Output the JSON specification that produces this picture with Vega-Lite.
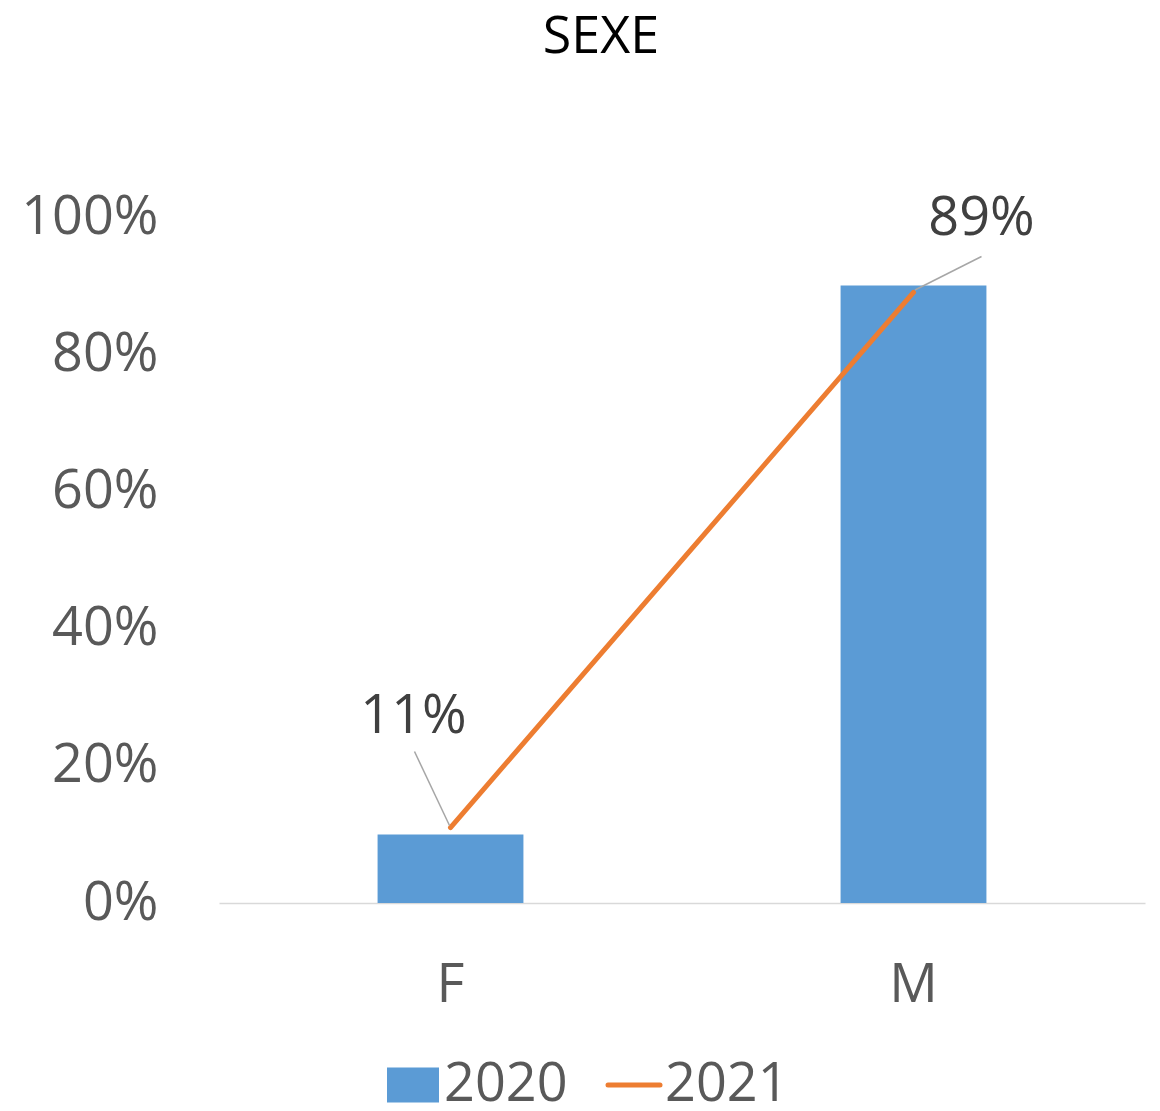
{
  "$schema": "https://vega.github.io/schema/vega-lite/v6.json",
  "width": 926,
  "height": 686,
  "autosize": {"type": "none"},
  "padding": {"left": 219, "top": 217, "right": 15, "bottom": 208},
  "background": "white",
  "title": {"text": "SEXE", "font": "Open Sans", "fontSize": 52, "fontWeight": "normal", "color": "#000000", "anchor": "middle", "dx": -81, "offset": 126},
  "config": {"view": {"stroke": null}, "font": "Open Sans"},
  "data": {"values": [
    {"cat": "F", "y2020": 0.10, "y2021": 0.11},
    {"cat": "M", "y2020": 0.90, "y2021": 0.89}
  ]},
  "encoding": {
    "x": {"field": "cat", "type": "nominal", "scale": {"paddingInner": 0.685, "paddingOuter": 0.3425},
      "axis": {"title": null, "labelAngle": 0, "labelFontSize": 54, "labelColor": "#595959", "labelFont": "Open Sans", "ticks": false, "domainColor": "#D9D9D9", "domainWidth": 1.5, "labelPadding": 55}}
  },
  "layer": [
    {
      "mark": {"type": "bar", "color": "#5B9BD5"},
      "encoding": {
        "y": {"field": "y2020", "type": "quantitative", "scale": {"domain": [0, 1], "nice": false},
          "axis": {"title": null, "format": ".0%", "values": [0, 0.2, 0.4, 0.6, 0.8, 1], "domain": false, "grid": false, "ticks": false, "labelFontSize": 54, "labelColor": "#595959", "labelFont": "Open Sans", "labelPadding": 61}},
        "color": {"datum": "2020", "type": "nominal", "scale": {"domain": ["2020", "2021"], "range": ["#5B9BD5", "#ED7D31"]},
          "legend": {"orient": "none", "legendX": 167, "legendY": 841, "direction": "horizontal", "title": null, "labelFontSize": 54, "labelColor": "#595959", "labelFont": "Open Sans", "symbolSize": 2704, "labelOffset": 4, "columnPadding": 30,
            "encode": {"symbols": {"update": {
              "shape": {"signal": "datum.value === '2020' ? 'M-1,-0.67H1V0.67H-1Z' : 'M-1,0H1'"},
              "fill": {"signal": "datum.value === '2020' ? '#5B9BD5' : 'transparent'"},
              "stroke": {"signal": "datum.value === '2020' ? 'transparent' : '#ED7D31'"},
              "strokeWidth": {"signal": "datum.value === '2020' ? 0 : 5"},
              "strokeCap": {"value": "round"},
              "opacity": {"value": 1},
              "fillOpacity": {"value": 1}
            }}}}}
      }
    },
    {
      "mark": {"type": "line", "strokeWidth": 5, "strokeCap": "round", "color": "#ED7D31"},
      "encoding": {
        "y": {"field": "y2021", "type": "quantitative", "axis": {"title": null}},
        "color": {"datum": "2021", "type": "nominal"}
      }
    },
    {
      "transform": [{"filter": "datum.cat === 'F'"}],
      "mark": {"type": "rule", "color": "#A6A6A6", "strokeWidth": 1.5, "xOffset": -1, "yOffset": -2, "x2Offset": -36, "y2Offset": -76},
      "encoding": {
        "x2": {"field": "cat"},
        "y": {"field": "y2021", "type": "quantitative"},
        "y2": {"field": "y2021"}
      }
    },
    {
      "transform": [{"filter": "datum.cat === 'M'"}],
      "mark": {"type": "rule", "color": "#A6A6A6", "strokeWidth": 1.5, "xOffset": 1.5, "yOffset": -2.5, "x2Offset": 68, "y2Offset": -36},
      "encoding": {
        "x2": {"field": "cat"},
        "y": {"field": "y2021", "type": "quantitative"},
        "y2": {"field": "y2021"}
      }
    },
    {
      "transform": [{"filter": "datum.cat === 'F'"}],
      "mark": {"type": "text", "font": "Open Sans", "fontSize": 54, "color": "#404040", "align": "center", "baseline": "alphabetic", "dx": -37, "dy": -95},
      "encoding": {
        "y": {"field": "y2021", "type": "quantitative"},
        "text": {"field": "y2021", "type": "quantitative", "format": ".0%"}
      }
    },
    {
      "transform": [{"filter": "datum.cat === 'M'"}],
      "mark": {"type": "text", "font": "Open Sans", "fontSize": 54, "color": "#404040", "align": "center", "baseline": "alphabetic", "dx": 68, "dy": -57},
      "encoding": {
        "y": {"field": "y2021", "type": "quantitative"},
        "text": {"field": "y2021", "type": "quantitative", "format": ".0%"}
      }
    }
  ]
}
